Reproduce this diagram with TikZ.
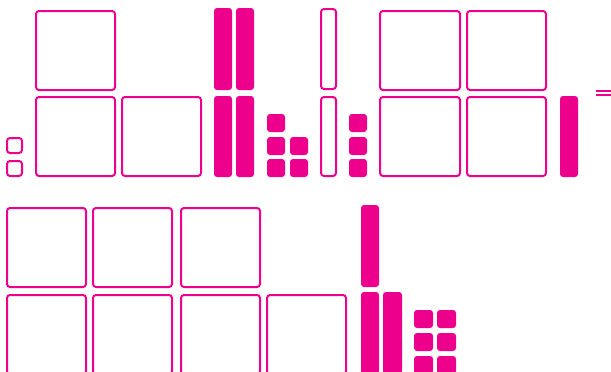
\documentclass[tikz,border=0pt]{standalone}
\definecolor{mag}{HTML}{EC008C}
\tikzset{
  obox/.style={draw=mag, line width=2pt, rounded corners=3pt},
  fbox/.style={fill=mag, rounded corners=3pt},
}
\begin{document}
\begin{tikzpicture}[x=1pt,y=-1pt]
\useasboundingbox (0,0) rectangle (611,372);
\clip (0,0) rectangle (611,372);
% ---- top row ----
\draw[obox] (36,11) rectangle (115,90);
\draw[obox] (36,97) rectangle (115,176);
\draw[obox] (122,97) rectangle (201,176);
\draw[obox] (7,138) rectangle (22,153);
\draw[obox] (7,161) rectangle (22,176);
% filled tall bars
\fill[fbox] (214,8) rectangle (232,90);
\fill[fbox] (236,8) rectangle (254,90);
\fill[fbox] (214,96) rectangle (232,177);
\fill[fbox] (236,96) rectangle (254,177);
% small filled squares
\fill[fbox] (267,114) rectangle (285,132);
\fill[fbox] (267,137) rectangle (285,155);
\fill[fbox] (267,159) rectangle (285,177);
\fill[fbox] (290,137) rectangle (308,155);
\fill[fbox] (290,159) rectangle (308,177);
% outline bars
\draw[obox] (321,9) rectangle (336,89);
\draw[obox] (321,97) rectangle (336,176);
% small filled column
\fill[fbox] (349,114) rectangle (367,132);
\fill[fbox] (349,137) rectangle (367,155);
\fill[fbox] (349,159) rectangle (367,177);
% right squares
\draw[obox] (380,11) rectangle (460,90);
\draw[obox] (467,11) rectangle (546,90);
\draw[obox] (380,97) rectangle (460,176);
\draw[obox] (467,97) rectangle (546,176);
\fill[fbox] (560,96) rectangle (578,177);
% equals sign
\fill[mag] (596,90) rectangle (620,92);
\fill[mag] (596,94) rectangle (620,96);
% ---- bottom row ----
\draw[obox] (7,208) rectangle (86,287);
\draw[obox] (93,208) rectangle (172,287);
\draw[obox] (181,208) rectangle (260,287);
\draw[obox] (7,295) rectangle (86,374);
\draw[obox] (93,295) rectangle (172,374);
\draw[obox] (181,295) rectangle (260,374);
\draw[obox] (267,295) rectangle (346,374);
\fill[fbox] (361,205) rectangle (379,287);
\fill[fbox] (361,292) rectangle (379,374);
\fill[fbox] (383,292) rectangle (402,374);
\fill[fbox] (414,310) rectangle (433,328);
\fill[fbox] (437,310) rectangle (456,328);
\fill[fbox] (414,333) rectangle (433,351);
\fill[fbox] (437,333) rectangle (456,351);
\fill[fbox] (414,356) rectangle (433,374);
\fill[fbox] (437,356) rectangle (456,374);
\end{tikzpicture}
\end{document}
